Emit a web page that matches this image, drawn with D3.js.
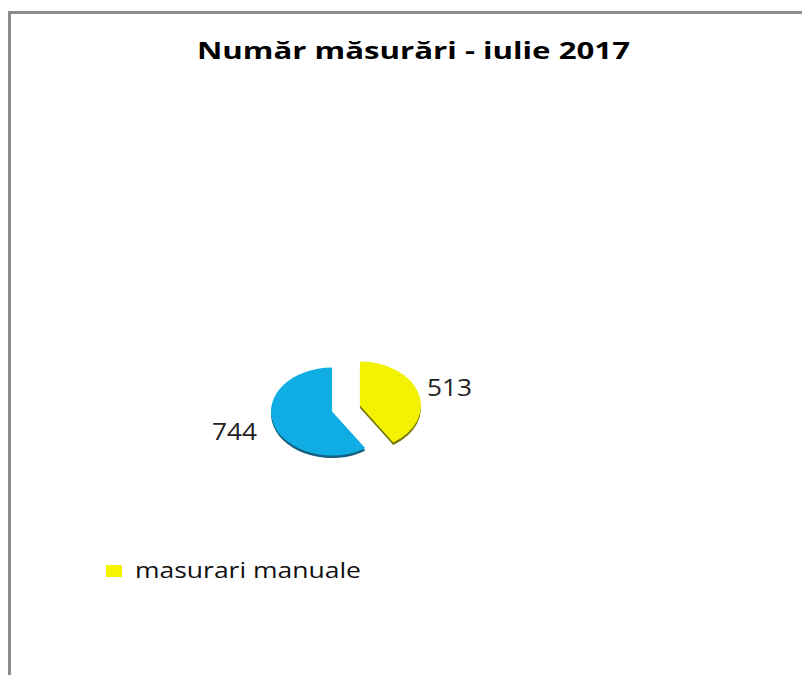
<!DOCTYPE html>
<html>
<head>
<meta charset="utf-8">
<script src="https://cdn.jsdelivr.net/npm/d3@7"></script>
<style>
  body { margin: 0; background: #fff; }
</style>
</head>
<body>
<div id="chart"></div>
<script>
const categories = ["masurari manuale", "masurari automate"];
const values = [513, 744];
const colors = ["#f2f202", "#10ade4"];
const rimColors = ["#77770a", "#165f80"];
const legendItems = ["masurari manuale"];
const titleText = "Număr măsurări - iulie 2017";

const width = 802;
const height = 675;

const svg = d3.select("#chart")
  .append("svg")
  .attr("width", width)
  .attr("height", height);

// frame (left + top edges are all that show)
svg.append("path")
  .attr("d", "M9.5,675 L9.5,12.5 L802,12.5")
  .attr("fill", "none")
  .attr("stroke", "#8c8c8c")
  .attr("stroke-width", 3);

svg.append("text")
  .attr("x", 197)
  .attr("y", 58.5)
  .attr("textLength", 433)
  .attr("lengthAdjust", "spacingAndGlyphs")
  .style("font-family", "'Open Sans', sans-serif")
  .style("font-weight", "bold")
  .style("font-size", "24px")
  .attr("fill", "#000")
  .text(titleText);

// flattened, exploded pie
const cx = 346, cy = 408.5;
const ry = 44, rx = 61;
const sx = rx / ry;
const explode = 10.5;

const pie = d3.pie()
  .value(d => d)
  .sort(null)
  .startAngle(0)
  .endAngle(2 * Math.PI);

const arc = d3.arc()
  .innerRadius(0)
  .outerRadius(ry);

const slices = pie(values);

const g = svg.append("g")
  .attr("transform", "translate(" + cx + "," + cy + ")");

const sliceG = g.selectAll("g.slice")
  .data(slices)
  .enter()
  .append("g")
  .attr("class", "slice")
  .attr("transform", function(d) {
    const mid = (d.startAngle + d.endAngle) / 2;
    const dx = Math.sin(mid) * explode * sx;
    const dy = -Math.cos(mid) * explode;
    return "translate(" + dx + "," + dy + ") scale(" + sx + ",1)";
  });

// depth rim
sliceG.append("path")
  .attr("d", arc)
  .attr("transform", "translate(0,2.5)")
  .attr("fill", (d, i) => rimColors[i]);

sliceG.append("path")
  .attr("d", arc)
  .attr("fill", (d, i) => colors[i]);

// value labels
const labelPos = [[427, 396], [212, 440]];
svg.selectAll("text.val")
  .data(values)
  .enter()
  .append("text")
  .attr("class", "val")
  .attr("x", (d, i) => labelPos[i][0])
  .attr("y", (d, i) => labelPos[i][1])
  .attr("textLength", 45)
  .attr("lengthAdjust", "spacingAndGlyphs")
  .style("font-family", "'Open Sans', sans-serif")
  .style("font-size", "23px")
  .attr("fill", "#222")
  .text(d => d);

// legend
const legend = svg.append("g")
  .attr("transform", "translate(106,565)");

legend.selectAll("rect")
  .data(legendItems)
  .enter()
  .append("rect")
  .attr("x", 0)
  .attr("y", 0)
  .attr("width", 16)
  .attr("height", 12)
  .attr("fill", "#f5f500");

legend.selectAll("text")
  .data(legendItems)
  .enter()
  .append("text")
  .attr("x", 29)
  .attr("y", 13)
  .attr("textLength", 226)
  .attr("lengthAdjust", "spacingAndGlyphs")
  .style("font-family", "'Open Sans', sans-serif")
  .style("font-size", "22px")
  .attr("fill", "#111")
  .text(d => d);
</script>
</body>
</html>
